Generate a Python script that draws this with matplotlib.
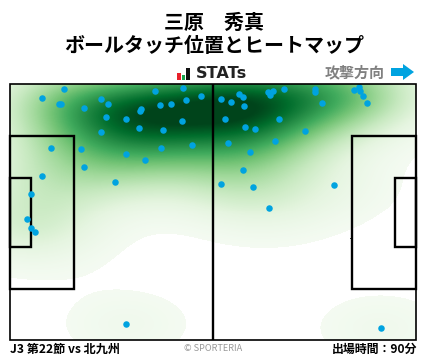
import numpy as np
import matplotlib
matplotlib.use("Agg")
import matplotlib.pyplot as plt
from matplotlib.patches import Rectangle, Polygon

plt.rcParams['font.family'] = ['Noto Sans CJK JP', 'DejaVu Sans']

# ball touches, read in picture pixels
touch_x = [42.3, 64.3, 59, 61, 84.3, 101.3, 108.3, 106.3, 101.3, 126.3, 141.3, 140.3, 139.3,
           155.3, 160.3, 171.3, 183.3, 186.3, 201.3, 182.3, 163.3, 161.3, 192.3, 126.3, 145.3,
           81.3, 51.3, 84.3, 42.3, 115.3, 31.3, 27.3, 31.3, 35.3, 126.3,
           221.3, 231.3, 239.3, 243.3, 244.3, 225.3, 245.3, 255.3, 228.3, 250.3, 243.3, 221.3,
           253.3, 269.3, 268.3, 270.3, 273.3, 284.3, 279.3, 275.3, 305.3, 315.3, 315.3, 322.3,
           334.3, 354.3, 359.3, 360.3, 363.3, 367.3, 381.3]
touch_y = [98.3, 89.3, 104.3, 104.3, 108.3, 99.3, 104.3, 117.3, 132.3, 119.3, 109.3, 111.3, 128.3,
           91.3, 105.3, 104.3, 88.3, 100.3, 96.3, 121.3, 130.3, 148.3, 145.3, 154.3, 160.3,
           149.3, 148.3, 167.3, 176.3, 182.3, 194.3, 219.3, 228.3, 232.3, 324.3,
           99.3, 102.3, 94.3, 97.3, 106.3, 119.3, 127.3, 129.3, 143.3, 152.3, 170.3, 184.3,
           187.3, 208.3, 92.3, 95.3, 91.3, 89.3, 119.3, 141.3, 131.3, 89.3, 92.3, 103.3,
           185.3, 90.3, 87.3, 91.3, 96.3, 103.3, 328.3]

title_lines = ["三原　秀真", "ボールタッチ位置とヒートマップ"]
match_label = "J3 第22節 vs 北九州"
time_label = "出場時間：90分"

left, right, top, bottom = 10.5, 416.5, 84, 340

fig = plt.figure(figsize=(4.28, 3.59), dpi=100)
ax = fig.add_axes([0, 0, 1, 1])
ax.set_xlim(0, 428)
ax.set_ylim(359, 0)
ax.axis("off")

# heatmap: gaussian density of the touches
gx = np.linspace(left, right, 407)
gy = np.linspace(top, bottom, 257)
xx, yy = np.meshgrid(gx, gy)
dens = np.zeros_like(xx)
for px, py in zip(touch_x, touch_y):
    dens += np.exp(-((xx - px) / 50) ** 2 / 2 - ((yy - py) / 27) ** 2 / 2)
dens = dens / dens.max()
dens = np.ma.masked_less(dens ** 1.1, 0.02)
ax.imshow(dens, extent=(left, right, bottom, top), cmap="Greens", vmin=0, vmax=0.95,
          aspect="auto", interpolation="nearest", zorder=1)

# pitch lines
lw = 1.7
boxes = [(left, 135.5, 63.5, 153.5), (left, 177.5, 20.5, 69.5),
         (352.5, 135.5, 64, 153.5), (395.5, 177.5, 21, 69.5)]
for bx, by, bw, bh in boxes:
    ax.add_patch(Rectangle((bx, by), bw, bh, fill=False, ec="black", lw=lw, zorder=2))
ax.plot([213, 213], [top, bottom], color="black", lw=lw, zorder=2, solid_capstyle="butt")
ax.plot([350, 352.5], [238, 238], color="black", lw=0.6, zorder=2)
ax.add_patch(Rectangle((left, top), right - left, bottom - top, fill=False, ec="black", lw=1.2, zorder=4))

ax.scatter(touch_x, touch_y, s=22, color="#00a3e0", linewidths=0, zorder=3)

# titles
ax.text(214, 22, title_lines[0], fontsize=14.4, fontweight="bold", ha="center", va="center")
ax.text(214, 46, title_lines[1], fontsize=14.4, fontweight="bold", ha="center", va="center")

# stats logo
ax.add_patch(Rectangle((177, 73), 4, 6.5, color="#e8202a", lw=0))
ax.add_patch(Rectangle((182, 75), 3.5, 4.5, color="#1aa34a", lw=0))
ax.add_patch(Rectangle((186.5, 67.5), 3.5, 12, color="#111111", lw=0))
ax.text(196, 73.5, "STATs", fontsize=11.6, fontweight="bold", family="DejaVu Sans",
        ha="left", va="center", color="#222222")

ax.text(385, 72, "攻撃方向", fontsize=10.8, fontweight="bold", color="#808080", ha="right", va="center")
ax.add_patch(Polygon([(391, 68), (403, 68), (403, 64), (414, 72), (403, 80), (403, 76), (391, 76)],
                     closed=True, color="#00a3e0", lw=0))

# footer
ax.text(10, 349.5, match_label, fontsize=8.7, fontweight="bold", ha="left", va="center")
ax.text(213, 348.5, "© SPORTERIA", fontsize=6.6, color="#999999", ha="center", va="center")
ax.text(417, 349.5, time_label, fontsize=8.6, fontweight="bold", ha="right", va="center")

fig.savefig("out.png", dpi=100)
